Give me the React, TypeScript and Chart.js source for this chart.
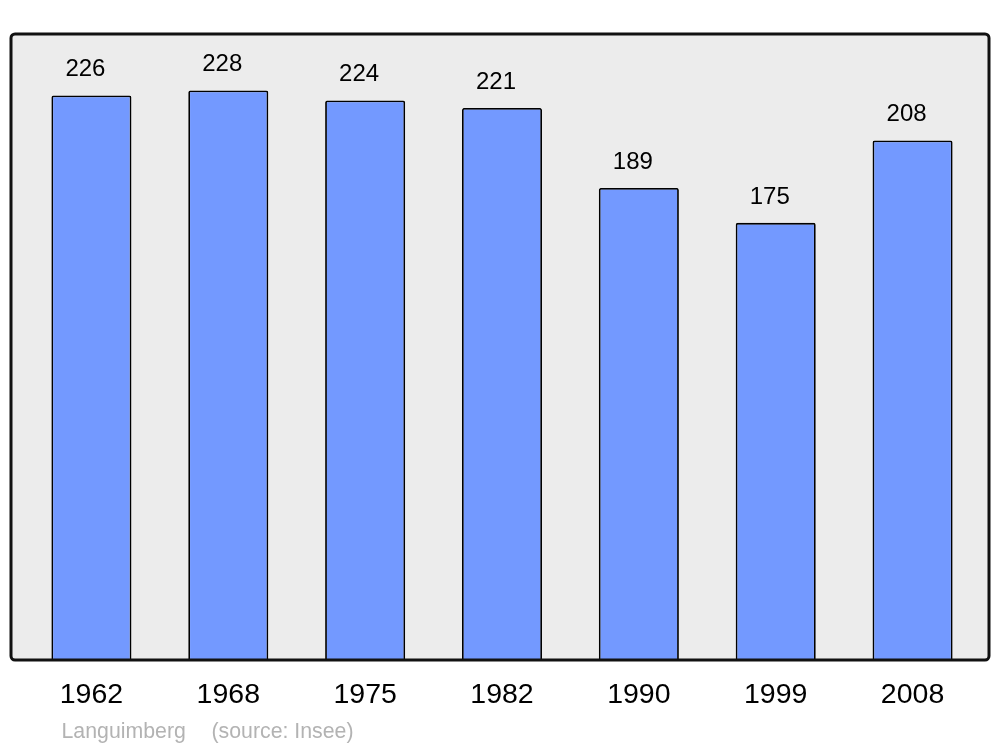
import React, { useEffect, useRef } from "react";
import { Chart, registerables } from "chart.js";

Chart.register(...registerables);

const years = ["1962", "1968", "1975", "1982", "1990", "1999", "2008"];
const population = [226, 228, 224, 221, 189, 175, 208];
const placeName = "Languimberg";
const sourceText = "(source: Insee)";

const FONT = "'Liberation Sans', Arial, sans-serif";

const boxPlugin = {
  id: "boxPlugin",
  beforeDatasetsDraw(chart: any) {
    const { ctx, chartArea } = chart;
    const l = chartArea.left - 12;
    const r = chartArea.right + 8;
    const t = chartArea.top;
    const b = chartArea.bottom;
    ctx.save();
    ctx.beginPath();
    ctx.roundRect(l, t, r - l, b - t, 4);
    ctx.fillStyle = "#ececec";
    ctx.fill();
    ctx.restore();
  },
  afterDatasetsDraw(chart: any) {
    const { ctx, chartArea } = chart;
    const l = chartArea.left - 12;
    const r = chartArea.right + 8;
    const t = chartArea.top;
    const b = chartArea.bottom;
    ctx.save();
    ctx.beginPath();
    ctx.roundRect(l, t, r - l, b - t, 4);
    ctx.lineWidth = 3;
    ctx.strokeStyle = "#111";
    ctx.stroke();
    // value labels
    const meta = chart.getDatasetMeta(0);
    ctx.fillStyle = "#000";
    ctx.font = `24px ${FONT}`;
    ctx.textAlign = "center";
    ctx.textBaseline = "alphabetic";
    meta.data.forEach((bar: any, i: number) => {
      ctx.fillText(String(population[i]), bar.x - 6, bar.y - 19);
    });
    // footer
    ctx.fillStyle = "#b3b3b3";
    ctx.font = `21.3px ${FONT}`;
    ctx.textAlign = "left";
    ctx.fillText(placeName, 61.5, 738);
    ctx.fillText(sourceText, 211.5, 738);
    ctx.restore();
  },
};

export default function App() {
  const ref = useRef<HTMLCanvasElement | null>(null);
  useEffect(() => {
    if (!ref.current) return;
    const chart = new Chart(ref.current, {
      type: "bar",
      data: {
        labels: years,
        datasets: [
          {
            data: population,
            backgroundColor: "#7399ff",
            borderColor: "#000",
            borderWidth: 1.8,
            borderRadius: { topLeft: 2, topRight: 2, bottomLeft: 0, bottomRight: 0 },
            borderSkipped: "bottom",
            barPercentage: 0.585,
            categoryPercentage: 1,
          },
        ],
      },
      options: {
        responsive: false,
        animation: false,
        layout: { padding: { left: 23, right: 19, top: 34, bottom: 0 } },
        plugins: { legend: { display: false }, tooltip: { enabled: false }, title: { display: false } },
        scales: {
          x: {
            grid: { display: false, drawTicks: false },
            border: { display: false },
            ticks: {
              color: "#000",
              font: { family: FONT, size: 28.5 },
              padding: 18,
              maxRotation: 0,
              autoSkip: false,
            },
            afterFit: (scale: any) => {
              scale.height = 87;
            },
          },
          y: {
            display: false,
            min: 0,
            max: 250.6,
          },
        },
      },
      plugins: [boxPlugin],
    });
    return () => chart.destroy();
  }, []);
  return (
    <div style={{ position: "fixed", left: 0, top: 0, width: 1000, height: 747, background: "#fff" }}>
      <canvas ref={ref} width={1000} height={747} style={{ width: 1000, height: 747 }} />
    </div>
  );
}
